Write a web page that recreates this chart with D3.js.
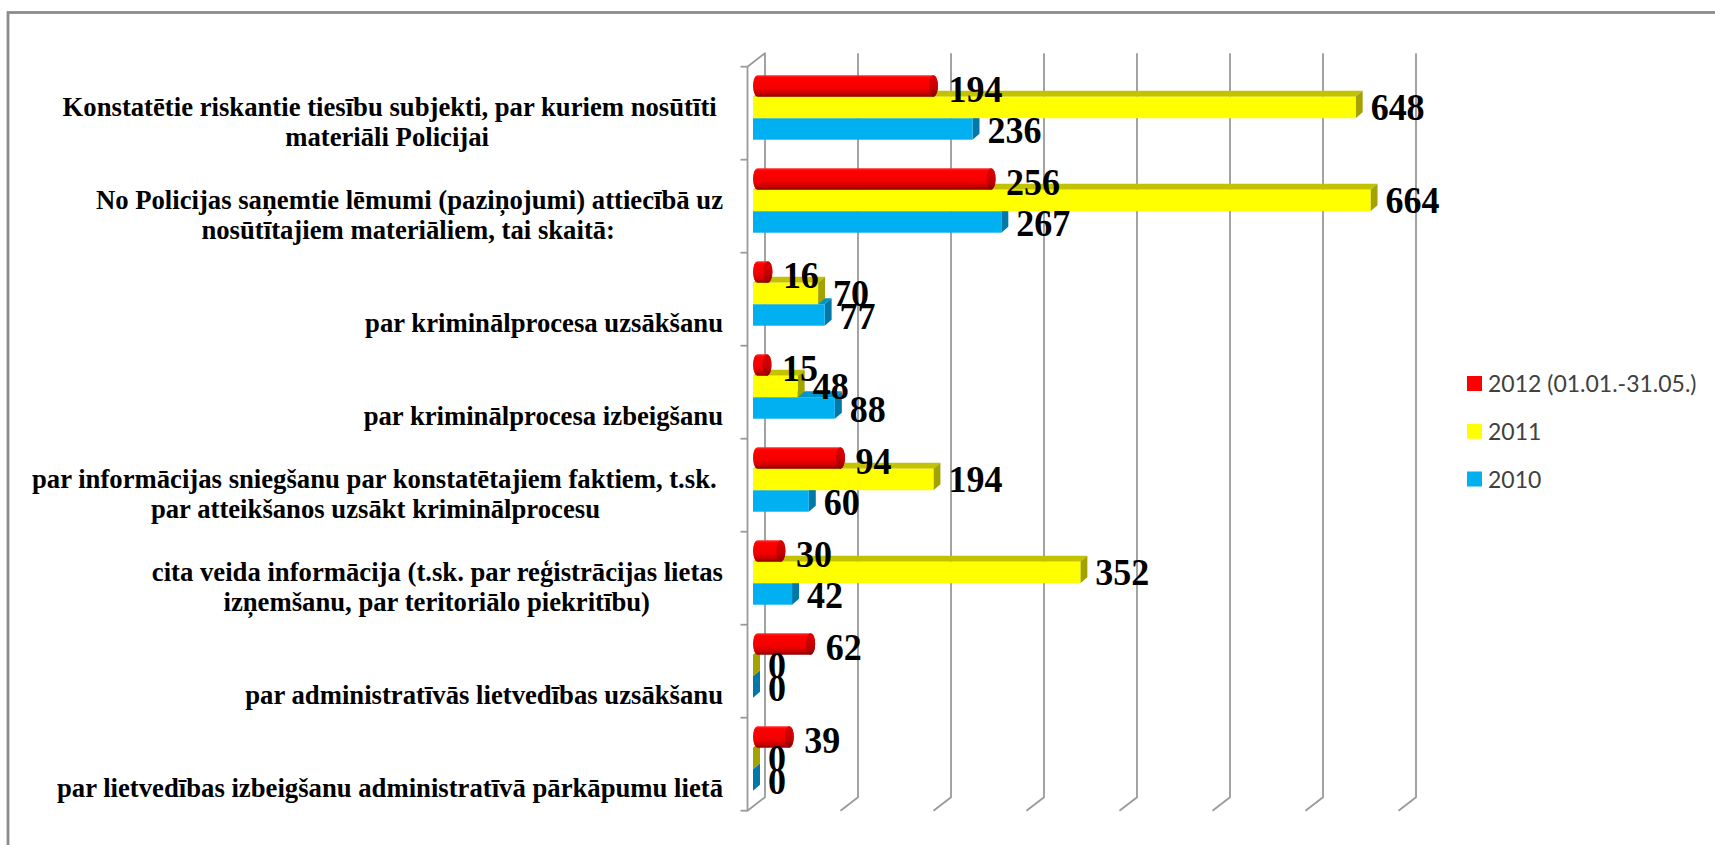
<!DOCTYPE html>
<html>
<head>
<meta charset="utf-8">
<script src="https://cdn.jsdelivr.net/npm/d3@7"></script>
<style>
  html, body { margin: 0; padding: 0; background: #fff; }
  svg { display: block; }
</style>
</head>
<body>
<svg id="chart" width="1715" height="845"></svg>
<script>
// ---------------- DATA ----------------
const categories = [
  ["Konstatētie riskantie tiesību subjekti, par kuriem nosūtīti", "materiāli Policijai"],
  ["No Policijas saņemtie lēmumi (paziņojumi) attiecībā uz", "nosūtītajiem materiāliem, tai skaitā:"],
  ["par kriminālprocesa uzsākšanu"],
  ["par kriminālprocesa izbeigšanu"],
  ["par informācijas sniegšanu par konstatētajiem faktiem, t.sk.", "par atteikšanos uzsākt kriminālprocesu"],
  ["cita veida informācija (t.sk. par reģistrācijas lietas", "izņemšanu, par teritoriālo piekritību)"],
  ["par administratīvās lietvedības uzsākšanu"],
  ["par lietvedības izbeigšanu administratīvā pārkāpumu lietā"]
];
const seriesNames = ["2012 (01.01.-31.05.)", "2011", "2010"];
const values2012 = [194, 256, 16, 15, 94, 30, 62, 39];
const values2011 = [648, 664, 70, 48, 194, 352, 0, 0];
const values2010 = [236, 267, 77, 88, 60, 42, 0, 0];
const gridTicks = [100, 200, 300, 400, 500, 600, 700];

// ---------------- LAYOUT ----------------
const svg = d3.select("#chart");

// right edge of each visible label line (px)
const labelLineEnds = [[716.7, 489], [723, 615], [723], [723], [716.7, 600], [723, 650], [723], [723]];

const bandTop = 66.7, bandBottom = 810.7;
const frontX0 = 747.5;                 // front plane, value 0
const depth = { dx: 17.5, dy: -13.5 }; // floor/wall depth
const barX0 = 753;                     // bar front face, value 0
const barDepth = { dx: 7, dy: -6 };
const pxPerUnit = 0.93;

const x = d3.scaleLinear().domain([0, 700]).range([0, 700 * pxPerUnit]);
const yBand = d3.scaleBand().domain(d3.range(categories.length)).range([bandTop, bandBottom]).padding(0);
const barH = 21.5, barOffset = 8.5;
const yInner = d3.scaleBand().domain([0, 1, 2]).range([barOffset, barOffset + 3 * barH]).padding(0);

const defs = svg.append("defs");

// frame
svg.append("rect").attr("x", 8).attr("y", 12.5).attr("width", 1730).attr("height", 880)
  .attr("fill", "none").attr("stroke", "#8c8c8c").attr("stroke-width", 2.8);

// ---- walls & gridlines ----
const gridColor = "#9a9a9a";
const g3d = svg.append("g");
const backTop = bandTop + depth.dy;
const backBottom = bandBottom + depth.dy;
g3d.append("path")
  .attr("d", `M${frontX0},${bandBottom} L${frontX0},${bandTop} L${frontX0 + depth.dx},${backTop} L${frontX0 + depth.dx},${backBottom} Z`)
  .attr("fill", "none").attr("stroke", gridColor).attr("stroke-width", 1.8).attr("stroke-linejoin", "round");
gridTicks.forEach(v => {
  const bx = frontX0 + depth.dx + x(v);
  g3d.append("path")
    .attr("d", `M${bx},${backTop} L${bx},${backBottom} L${bx - depth.dx},${bandBottom}`)
    .attr("fill", "none").attr("stroke", gridColor).attr("stroke-width", 1.8);
});
d3.range(categories.length + 1).forEach(i => {
  const yy = bandTop + i * yBand.bandwidth();
  g3d.append("line").attr("x1", frontX0 - 7).attr("x2", frontX0).attr("y1", yy).attr("y2", yy)
    .attr("stroke", gridColor).attr("stroke-width", 1.8);
});

// ---- gradients for red cylinder ----
const gRed = defs.append("linearGradient").attr("id", "redBody").attr("x1", 0).attr("y1", 0).attr("x2", 0).attr("y2", 1);
[[0, "#ff3030"], [0.12, "#ff0000"], [0.6, "#f40000"], [0.85, "#c80000"], [1, "#8a0000"]]
  .forEach(([o, c]) => gRed.append("stop").attr("offset", o).attr("stop-color", c));
const gCap = defs.append("linearGradient").attr("id", "redCap").attr("x1", 0).attr("y1", 0).attr("x2", 0).attr("y2", 1);
[[0, "#e00000"], [0.6, "#c40000"], [1, "#8a0000"]]
  .forEach(([o, c]) => gCap.append("stop").attr("offset", o).attr("stop-color", c));

const seriesStyle = [
  { values: values2012, kind: "cyl", front: "url(#redBody)", legend: "#ff0000", labelDy: 16 },
  { values: values2011, kind: "box", front: "#ffff00", top: "#c2c200", side: "#a3a300", legend: "#ffff00", labelDy: 13 },
  { values: values2010, kind: "box", front: "#00b0f0", top: "#0095cc", side: "#0079a8", legend: "#00b0f0", labelDy: 14 }
];

const bars = svg.append("g");
categories.forEach((cat, ci) => {
  [2, 1, 0].forEach(si => {
    const s = seriesStyle[si];
    const v = s.values[ci];
    const y0 = yBand(ci) + yInner(si);
    const y1 = y0 + barH;
    const xa = barX0, xb = barX0 + x(v);
    if (s.kind === "box") {
      const dx = barDepth.dx, dy = barDepth.dy;
      bars.append("path").attr("d", `M${xa},${y0} L${xa + dx},${y0 + dy} L${xb + dx},${y0 + dy} L${xb},${y0} Z`).attr("fill", s.top);
      bars.append("path").attr("d", `M${xb},${y0} L${xb + dx},${y0 + dy} L${xb + dx},${y1 + dy} L${xb},${y1} Z`).attr("fill", s.side);
      if (v > 0) bars.append("rect").attr("x", xa).attr("y", y0).attr("width", xb - xa).attr("height", barH).attr("fill", s.front);
    } else {
      const rx = 4.5, ry = barH / 2;
      const left = xa + rx;
      const right = Math.max(xb, left);
      bars.append("path")
        .attr("d", `M${left},${y0} L${right},${y0} A${rx},${ry} 0 0 1 ${right},${y1} L${left},${y1} A${rx},${ry} 0 0 1 ${left},${y0} Z`)
        .attr("fill", s.front);
      bars.append("ellipse").attr("cx", right).attr("cy", y0 + ry).attr("rx", rx).attr("ry", ry).attr("fill", "url(#redCap)");
    }
  });
});

// ---- data labels ----
const labelsG = svg.append("g").attr("font-family", "'Liberation Serif', 'Times New Roman', serif")
  .attr("font-weight", "bold").attr("font-size", 36).attr("fill", "#000");
categories.forEach((cat, ci) => {
  [2, 1, 0].forEach(si => {
    const s = seriesStyle[si];
    const v = s.values[ci];
    const y0 = yBand(ci) + yInner(si);
    labelsG.append("text")
      .attr("transform", `translate(${barX0 + x(v) + 15},${y0 + barH / 2 + s.labelDy}) scale(1,1.07)`)
      .text(d3.format("d")(v));
  });
});

// ---- category labels ----
const catG = svg.append("g").attr("font-family", "'Liberation Serif', 'Times New Roman', serif")
  .attr("font-weight", "bold").attr("font-size", 26.7).attr("fill", "#000").attr("text-anchor", "end");
categories.forEach((lines, ci) => {
  const lastBaseline = yBand(ci) + yBand.bandwidth() - 14;
  lines.forEach((ln, li) => {
    catG.append("text")
      .attr("x", labelLineEnds[ci][li])
      .attr("y", lastBaseline - (lines.length - 1 - li) * 30)
      .text(ln);
  });
});

// ---- legend ----
const legendY = d3.scalePoint().domain(seriesNames).range([383.5, 479]);
const leg = svg.append("g");
seriesNames.forEach((name, i) => {
  const cy = legendY(name);
  leg.append("rect").attr("x", 1467).attr("y", cy - 7.5).attr("width", 15).attr("height", 15).attr("fill", seriesStyle[i].legend);
  leg.append("text").attr("x", 1488).attr("y", cy + 8.5).attr("font-family", "Lato, 'Noto Sans', sans-serif")
    .attr("font-size", 23).attr("fill", "#404040").text(name);
});
</script>
</body>
</html>
